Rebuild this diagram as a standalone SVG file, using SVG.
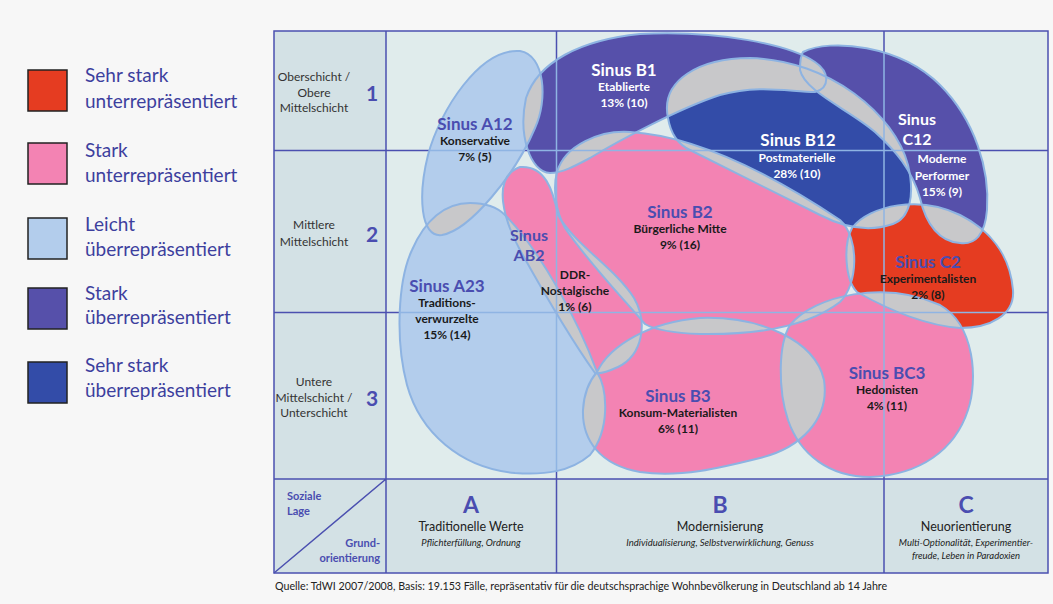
<svg xmlns="http://www.w3.org/2000/svg" width="1053" height="604" viewBox="0 0 1053 604">
<style>
text{font-family:Lato,"Open Sans","Liberation Sans",sans-serif}
.leg{font-size:19px;fill:#3d3f9e}
.row{font-size:12px;fill:#333;text-anchor:middle}
.num{font-size:21px;font-weight:bold;fill:#4a4db0;text-anchor:middle}
.t{font-size:17px;font-weight:bold;text-anchor:middle;fill:#4a4db0}
.tw{font-size:17px;font-weight:bold;text-anchor:middle;fill:#fff}
.t2{font-size:16px;font-weight:bold;text-anchor:middle;fill:#4a4db0}
.tw2{font-size:16px;font-weight:bold;text-anchor:middle;fill:#fff}
.s{font-size:12px;font-weight:bold;text-anchor:middle;fill:#1a1a1a}
.sw{font-size:12px;font-weight:bold;text-anchor:middle;fill:#fff}
.col{font-size:23px;font-weight:bold;fill:#4a4db0;text-anchor:middle}
.cd{font-size:12.5px;fill:#222;text-anchor:middle}
.ci{font-size:9.5px;font-style:italic;fill:#222;text-anchor:middle}
.ax{font-size:11px;font-weight:bold;fill:#4a4db0}
.grid{stroke:#4b50b0;stroke-width:1.5;fill:none}
.lgrid{stroke:#8fb4e3;stroke-width:1.5;fill:none}
.outline{fill:none;stroke:#8db3e2;stroke-width:2}
.gray{fill:#c8c8ca}
.lb{fill:#b3cdec}.pk{fill:#f383b3}.pu{fill:#5650aa}.db{fill:#334ca8}.rd{fill:#e53c21}
</style>
<defs>
<path id="pA12" d="M 520,51 C 545,55 548,100 535,128 C 515,175 470,230 442,235 C 420,238 418,195 428,155 C 440,110 480,48 520,51 Z"/>
<path id="pA23" d="M 470,203 C 488,203 498,208 505,215 C 540,250 578,320 597,372 C 608,390 610,430 590,455 C 570,472 545,475 515,473 C 460,468 420,432 407,385 C 395,340 398,280 412,250 C 425,220 445,203 470,203 Z"/>
<path id="pAB2" d="M 520,167 C 545,165 553,190 558,215 C 575,245 615,268 634,298 C 648,322 643,355 618,367 C 607,372 599,374 595,373 C 575,345 545,295 520,250 C 505,222 490,178 520,167 Z"/>
<path id="pB1" d="M 550,173 C 530,172 518,135 526,98 C 538,62 580,40 640,34 C 720,30 790,45 815,62 C 830,72 830,88 815,92 C 790,92 760,84 720,95 C 680,108 620,140 590,158 C 575,166 562,173 550,173 Z"/>
<path id="pB12" d="M 668,118 C 660,80 700,58 750,58 C 830,60 895,115 908,165 C 915,195 910,218 893,224 C 870,232 845,228 820,215 C 770,190 720,165 690,150 C 675,143 670,130 668,118 Z"/>
<path id="pB2" d="M 557,172 C 565,145 600,130 630,132 C 700,136 780,180 840,220 C 860,238 858,285 840,302 C 810,325 760,335 700,334 C 672,333 655,330 645,324 C 620,295 588,262 565,228 C 555,210 553,187 557,172 Z"/>
<path id="pB3" d="M 597,372 C 610,345 650,322 700,318 C 760,316 815,340 824,380 C 830,420 800,448 760,458 C 720,468 680,478 640,472 C 600,465 582,440 583,410 C 584,392 590,380 597,372 Z"/>
<path id="pBC3" d="M 790,325 C 815,295 885,280 940,305 C 975,325 978,380 968,410 C 955,450 920,475 870,477 C 830,477 800,455 788,420 C 778,390 778,345 790,325 Z"/>
<path id="pC12" d="M 803,52 C 830,38 900,45 940,85 C 975,120 990,170 987,210 C 985,235 975,245 960,243 C 940,242 926,225 920,198 C 912,170 895,150 875,132 C 850,110 805,92 800,70 C 800,60 801,55 803,52 Z"/>
<path id="pC2" d="M 852,228 C 870,205 920,195 960,215 C 990,230 1010,255 1013,290 C 1015,315 990,328 960,328 C 920,325 880,305 857,292 C 845,280 843,245 852,228 Z"/>
<clipPath id="cA12"><use href="#pA23"/><use href="#pB1"/><use href="#pAB2"/></clipPath>
<clipPath id="cA23"><use href="#pA12"/><use href="#pAB2"/><use href="#pB3"/></clipPath>
<clipPath id="cAB2"><use href="#pA12"/><use href="#pA23"/><use href="#pB1"/><use href="#pB2"/><use href="#pB3"/></clipPath>
<clipPath id="cB1"><use href="#pA12"/><use href="#pAB2"/><use href="#pB2"/><use href="#pB12"/><use href="#pC12"/></clipPath>
<clipPath id="cB12"><use href="#pB1"/><use href="#pB2"/><use href="#pC12"/><use href="#pC2"/></clipPath>
<clipPath id="cB2"><use href="#pAB2"/><use href="#pB1"/><use href="#pB12"/><use href="#pB3"/><use href="#pBC3"/><use href="#pC2"/></clipPath>
<clipPath id="cB3"><use href="#pA23"/><use href="#pAB2"/><use href="#pB2"/><use href="#pBC3"/></clipPath>
<clipPath id="cBC3"><use href="#pB2"/><use href="#pB3"/><use href="#pC2"/></clipPath>
<clipPath id="cC12"><use href="#pB1"/><use href="#pB12"/><use href="#pC2"/></clipPath>
<clipPath id="cC2"><use href="#pB12"/><use href="#pC12"/><use href="#pB2"/><use href="#pBC3"/></clipPath>
<clipPath id="cAll"><use href="#pA12"/><use href="#pA23"/><use href="#pAB2"/><use href="#pB1"/><use href="#pB12"/><use href="#pB2"/><use href="#pB3"/><use href="#pBC3"/><use href="#pC12"/><use href="#pC2"/></clipPath>
</defs>

<rect x="0" y="0" width="1053" height="604" fill="#f7f7f7"/>

<g id="legend">
<rect x="28" y="70" width="39" height="41" fill="#e53c21" stroke="#222" stroke-width="1.5"/>
<text class="leg" x="85" y="82">Sehr stark</text><text class="leg" x="85" y="108">unterrepräsentiert</text>
<rect x="28" y="143" width="39" height="41" fill="#f383b3" stroke="#222" stroke-width="1.5"/>
<text class="leg" x="85" y="157">Stark</text><text class="leg" x="85" y="182">unterrepräsentiert</text>
<rect x="28" y="218" width="39" height="41" fill="#b3cdec" stroke="#222" stroke-width="1.5"/>
<text class="leg" x="85" y="231">Leicht</text><text class="leg" x="85" y="256">überrepräsentiert</text>
<rect x="28" y="288" width="39" height="41" fill="#5650aa" stroke="#222" stroke-width="1.5"/>
<text class="leg" x="85" y="300">Stark</text><text class="leg" x="85" y="324">überrepräsentiert</text>
<rect x="28" y="362" width="39" height="41" fill="#334ca8" stroke="#222" stroke-width="1.5"/>
<text class="leg" x="85" y="372">Sehr stark</text><text class="leg" x="85" y="397">überrepräsentiert</text>
</g>

<g id="table">
<rect x="274" y="31" width="774" height="542" fill="#e0ecec"/>
<rect x="274" y="31" width="112" height="448" fill="#d3e1e5"/>
<rect x="274" y="479" width="774" height="94" fill="#d3e1e5"/>
<path class="grid" d="M386,31V573 M556.5,31V573 M884,31V573 M274,150.5H1048 M274,312.5H1048 M274,479H1048 M274,573L386,479"/>
<rect class="grid" x="274" y="31" width="774" height="542"/>
</g>

<g id="regions">
<g id="node-A12"><use href="#pA12" class="lb"/><use href="#pA12" class="gray" clip-path="url(#cA12)"/></g>
<g id="node-A23"><use href="#pA23" class="lb"/><use href="#pA23" class="gray" clip-path="url(#cA23)"/></g>
<g id="node-AB2"><use href="#pAB2" class="pk"/><use href="#pAB2" class="gray" clip-path="url(#cAB2)"/></g>
<g id="node-B1"><use href="#pB1" class="pu"/><use href="#pB1" class="gray" clip-path="url(#cB1)"/></g>
<g id="node-B12"><use href="#pB12" class="db"/><use href="#pB12" class="gray" clip-path="url(#cB12)"/></g>
<g id="node-B2"><use href="#pB2" class="pk"/><use href="#pB2" class="gray" clip-path="url(#cB2)"/></g>
<g id="node-B3"><use href="#pB3" class="pk"/><use href="#pB3" class="gray" clip-path="url(#cB3)"/></g>
<g id="node-BC3"><use href="#pBC3" class="pk"/><use href="#pBC3" class="gray" clip-path="url(#cBC3)"/></g>
<g id="node-C12"><use href="#pC12" class="pu"/><use href="#pC12" class="gray" clip-path="url(#cC12)"/></g>
<g id="node-C2"><use href="#pC2" class="rd"/><use href="#pC2" class="gray" clip-path="url(#cC2)"/></g>
</g>

<g id="outlines" class="outline">
<use href="#pA12"/><use href="#pA23"/><use href="#pAB2"/><use href="#pB1"/><use href="#pB12"/><use href="#pB2"/><use href="#pB3"/><use href="#pBC3"/><use href="#pC12"/><use href="#pC2"/>
</g>
<g id="inner-grid" clip-path="url(#cAll)">
<path class="lgrid" d="M556.5,31V479 M884,31V479 M386,150.5H1048 M386,312.5H1048"/>
</g>

<g id="labels">
<g id="label-A12"><text class="t" x="475" y="130">Sinus A12</text><text class="s" x="475" y="145">Konservative</text><text class="s" x="475" y="161">7% (5)</text></g>
<g id="label-B1"><text class="tw" x="624" y="76">Sinus B1</text><text class="sw" x="624" y="91">Etablierte</text><text class="sw" x="624" y="107">13% (10)</text></g>
<g id="label-B12"><text class="tw" x="798" y="146">Sinus B12</text><text class="sw" x="797" y="162">Postmaterielle</text><text class="sw" x="797" y="178">28% (10)</text></g>
<g id="label-C12"><text class="tw2" x="917" y="125">Sinus</text><text class="tw2" x="917" y="145">C12</text><text class="sw" x="942" y="163">Moderne</text><text class="sw" x="942" y="180">Performer</text><text class="sw" x="942" y="196">15% (9)</text></g>
<g id="label-B2"><text class="t" x="680" y="218">Sinus B2</text><text class="s" x="680" y="233">Bürgerliche Mitte</text><text class="s" x="680" y="249">9% (16)</text></g>
<g id="label-AB2"><text class="t2" x="529" y="241">Sinus</text><text class="t2" x="529" y="261">AB2</text><text class="s" x="575" y="279">DDR-</text><text class="s" x="575" y="295">Nostalgische</text><text class="s" x="575" y="311">1% (6)</text></g>
<g id="label-A23"><text class="t" x="447" y="292">Sinus A23</text><text class="s" x="447" y="307">Traditions-</text><text class="s" x="447" y="323">verwurzelte</text><text class="s" x="447" y="339">15% (14)</text></g>
<g id="label-C2"><text class="t" x="928" y="268">Sinus C2</text><text class="s" x="928" y="283">Experimentalisten</text><text class="s" x="928" y="299">2% (8)</text></g>
<g id="label-BC3"><text class="t" x="887" y="379">Sinus BC3</text><text class="s" x="887" y="394">Hedonisten</text><text class="s" x="887" y="410">4% (11)</text></g>
<g id="label-B3"><text class="t" x="678" y="402">Sinus B3</text><text class="s" x="678" y="417">Konsum-Materialisten</text><text class="s" x="678" y="433">6% (11)</text></g>
</g>

<g id="row-labels">
<text class="row" x="314" y="81">Oberschicht /</text><text class="row" x="314" y="97">Obere</text><text class="row" x="314" y="112">Mittelschicht</text>
<text class="num" x="372" y="101">1</text>
<text class="row" x="314" y="229">Mittlere</text><text class="row" x="314" y="246">Mittelschicht</text>
<text class="num" x="372" y="242">2</text>
<text class="row" x="314" y="386">Untere</text><text class="row" x="314" y="402">Mittelschicht /</text><text class="row" x="314" y="417">Unterschicht</text>
<text class="num" x="372" y="406">3</text>
</g>

<g id="col-labels">
<text class="ax" x="287" y="500">Soziale</text><text class="ax" x="287" y="515">Lage</text>
<text class="ax" x="380" y="547" text-anchor="end">Grund-</text><text class="ax" x="380" y="562" text-anchor="end">orientierung</text>
<text class="col" x="471" y="513">A</text><text class="cd" x="471" y="531">Traditionelle Werte</text><text class="ci" x="471" y="546">Pflichterfüllung, Ordnung</text>
<text class="col" x="720" y="513">B</text><text class="cd" x="720" y="531">Modernisierung</text><text class="ci" x="720" y="546">Individualisierung, Selbstverwirklichung, Genuss</text>
<text class="col" x="966" y="513">C</text><text class="cd" x="966" y="531">Neuorientierung</text><text class="ci" x="966" y="546">Multi-Optionalität, Experimentier-</text><text class="ci" x="966" y="559">freude, Leben in Paradoxien</text>
</g>

<text x="275" y="590" font-size="10.7" fill="#222">Quelle: TdWI 2007/2008, Basis: 19.153 Fälle, repräsentativ für die deutschsprachige Wohnbevölkerung in Deutschland ab 14 Jahre</text>
</svg>
